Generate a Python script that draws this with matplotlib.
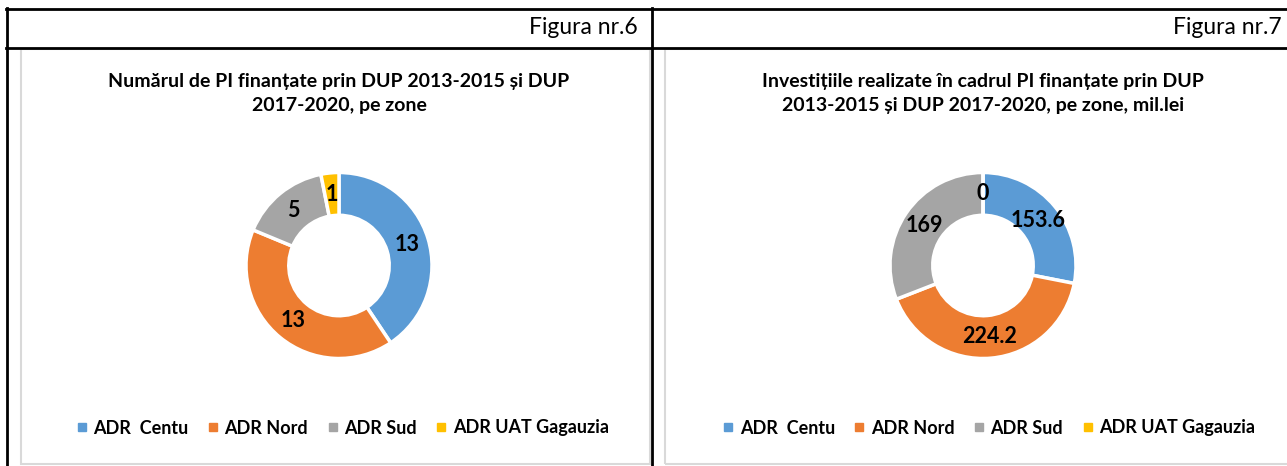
import matplotlib
matplotlib.use("Agg")
import matplotlib.pyplot as plt
from matplotlib.lines import Line2D
from matplotlib.patches import Rectangle

# ---- data ----
categories = ["ADR  Centu", "ADR Nord", "ADR Sud", "ADR UAT Gagauzia"]
colors = ["#5B9BD5", "#ED7D31", "#A5A5A5", "#FFC000"]

fig6_values = [13, 13, 5, 1]
fig6_labels = ["13", "13", "5", "1"]
fig6_title = ["Numărul de PI finanțate prin DUP 2013-2015 și DUP", "2017-2020, pe zone"]
fig6_header = "Figura nr.6"

fig7_values = [153.6, 224.2, 169, 0]
fig7_labels = ["153.6", "224.2", "169", "0"]
fig7_title = ["Investițiile realizate în cadrul PI finanțate prin DUP",
              "2013-2015 și DUP 2017-2020, pe zone, mil.lei"]
fig7_header = "Figura nr.7"

W, H = 1287, 466
DPI = 100
plt.rcParams['font.family'] = ['Lato', 'DejaVu Sans']

fig = plt.figure(figsize=(W / DPI, H / DPI), dpi=DPI)
fig.patch.set_facecolor("white")


def fx(x):
    return x / W


def fy(y):
    return 1 - y / H


def hline(y, x0, x1, color="black", lw=2.0):
    fig.add_artist(Line2D([fx(x0), fx(x1)], [fy(y), fy(y)], color=color, lw=lw,
                          transform=fig.transFigure))


def vline(x, y0, y1, color="black", lw=2.0):
    fig.add_artist(Line2D([fx(x), fx(x)], [fy(y0), fy(y1)], color=color, lw=lw,
                          transform=fig.transFigure))


# table borders
hline(8.5, 5.5, W + 5)
hline(47.5, 5.5, W + 5)
vline(6.5, 7.5, H + 5)
vline(652, 7.5, H + 5)

# chart boxes
for (x0, x1) in [(21, 650), (665, W + 5)]:
    fig.add_artist(Rectangle((fx(x0), fy(463.5)), fx(x1) - fx(x0), fy(49) - fy(463.5),
                             transform=fig.transFigure, fill=False,
                             edgecolor="#D9D9D9", lw=1.5))


def panel(cx, cy, values, labels, title, header, header_right, legend_cx):
    r = 93
    ax = fig.add_axes([fx(cx - r), fy(cy + r), fx(2 * r), (2 * r) / H])
    it = iter(labels)
    ax.pie(
        values, colors=colors, startangle=90, counterclock=False, radius=1.0,
        wedgeprops=dict(width=0.46, edgecolor="white", linewidth=2.5),
        autopct=lambda p: next(it), pctdistance=0.77,
        textprops=dict(fontsize=15.5, fontweight="bold", color="black"))
    ax.set_xlim(-1, 1)
    ax.set_ylim(-1, 1)
    ax.set_aspect("equal")
    ax.axis("off")
    for line, ty in zip(title, [82, 106]):
        fig.text(fx(cx), fy(ty), line, ha="center", va="center", fontsize=14,
                 fontweight="bold")
    fig.text(fx(header_right), fy(28), header, ha="right", va="center", fontsize=16.5)
    handles = [Line2D([], [], marker="s", linestyle="none", markersize=5.2,
                      markerfacecolor=c, markeredgecolor=c) for c in colors]
    fig.legend(handles, categories, loc="center", bbox_to_anchor=(fx(legend_cx), fy(428)),
               ncol=4, frameon=False, handlelength=0.6, handletextpad=0.34,
               columnspacing=1.05, borderpad=0, borderaxespad=0,
               prop=dict(size=13, weight="bold"))


panel(339, 265.5, fig6_values, fig6_labels, fig6_title, fig6_header, 638, 342.5)
panel(983, 265.5, fig7_values, fig7_labels, fig7_title, fig7_header, 1282, 989)

fig.savefig("out.png", dpi=DPI, facecolor="white")
